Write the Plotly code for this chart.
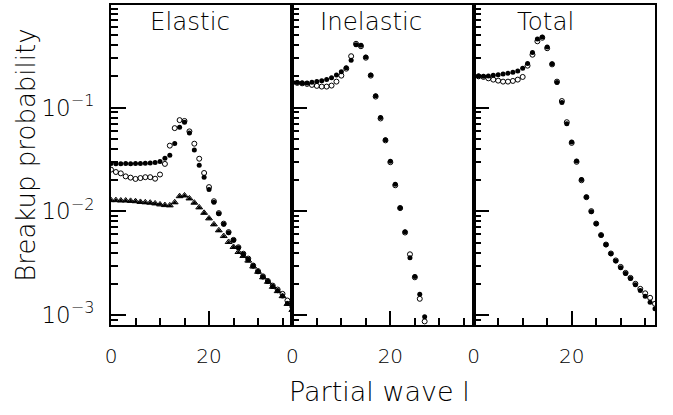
import plotly.graph_objects as go

# ---------------- data ----------------
l_el = list(range(0, 38))
el_filled = [0.0288, 0.0287, 0.0287, 0.0288, 0.0287, 0.0288, 0.0289, 0.0290, 0.0292, 0.0295,
             0.0301, 0.0324, 0.0346, 0.0451, 0.0647, 0.0722, 0.0569, 0.0389, 0.0277, 0.0213,
             0.0162, 0.01225, 0.00946, 0.00748, 0.00621, 0.00525, 0.00446, 0.00385, 0.00345, 0.00297,
             0.00262, 0.00233, 0.00210, 0.00188, 0.00171, 0.00153, 0.00129, 0.00112]
el_open = [0.0252, 0.0239, 0.0232, 0.0217, 0.0211, 0.0205, 0.0209, 0.0213, 0.0213, 0.0206,
           0.0226, 0.0286, 0.0429, 0.0633, 0.0756, 0.0742, 0.0589, 0.0448, 0.0321, 0.0234,
           0.0171, 0.0125, 0.0096, 0.0076, 0.0063, 0.0053, 0.0045, 0.0039, 0.0035, 0.0030,
           0.00265, 0.00236, 0.00213, 0.00192, 0.00176, 0.00160, 0.00138, 0.00120]
el_tri_open = [0.0128, 0.0128, 0.0127, 0.0127, 0.0126, 0.0125, 0.0123, 0.0122, 0.0121, 0.0119,
               0.01164, 0.01147, 0.0114, 0.0122, 0.01397, 0.0142, 0.0133, 0.0121, 0.0109, 0.00966,
               0.00854, 0.00748, 0.00655, 0.00577, 0.00506, 0.00453, 0.00405, 0.00371, 0.00335, 0.00294,
               0.00261, 0.00231, 0.00209, 0.00187, 0.00170, 0.00152, 0.00128, 0.00112]
el_tri_filled = [0.0127, 0.0127, 0.0126, 0.0126, 0.0125, 0.0124, 0.0122, 0.0121, 0.0120, 0.0118,
                 0.0116, 0.0114, 0.0113, 0.0121, 0.0139, 0.0141, 0.0132, 0.0120, 0.0108, 0.0096,
                 0.0085, 0.0074, 0.0065, 0.0057, 0.0050, 0.0045, 0.0040, 0.0037, 0.0033, 0.0029,
                 0.0026, 0.0023, 0.0021, 0.00186, 0.00169, 0.00151, 0.00127, 0.00111]

l_in = list(range(0, 28))
in_filled = [0.1750, 0.1738, 0.1726, 0.1726, 0.1750, 0.1777, 0.1816, 0.1857, 0.1941, 0.2061,
             0.2217, 0.2422, 0.2858, 0.4027, 0.3981, 0.3069, 0.2061, 0.1295, 0.0802, 0.0488,
             0.0303, 0.01824, 0.01079, 0.00635, 0.00357, 0.00235, 0.00159, 0.000964]
in_open = [0.1738, 0.1726, 0.1710, 0.1689, 0.1652, 0.1616, 0.1591, 0.1591, 0.1627, 0.1777,
           0.2029, 0.2368, 0.3122, 0.4115, 0.3895, 0.3020, 0.2029, 0.1275, 0.0784, 0.0482,
           0.0297, 0.0178, 0.01072, 0.00624, 0.00385, 0.00231, 0.001434, 0.000868]

l_tot = list(range(0, 38))
tot_filled = [0.2015, 0.2015, 0.1997, 0.2015, 0.2042, 0.2074, 0.2107, 0.2135, 0.2183, 0.2251,
              0.2384, 0.2662, 0.3396, 0.4566, 0.4772, 0.3826, 0.2645, 0.1738, 0.1117, 0.0698,
              0.0464, 0.0305, 0.02021, 0.01376, 0.00988, 0.00758, 0.00586, 0.00476, 0.00390, 0.00332,
              0.00286, 0.00251, 0.002246, 0.001954, 0.001722, 0.001516, 0.001327, 0.001149]
tot_open = [0.2015, 0.1997, 0.1971, 0.1911, 0.1857, 0.1816, 0.1777, 0.1777, 0.1804, 0.1857,
            0.1971, 0.2531, 0.3228, 0.4349, 0.4699, 0.3726, 0.2604, 0.1777, 0.1155, 0.0722,
            0.0456, 0.02997, 0.01991, 0.01367, 0.01003, 0.00761, 0.0059, 0.00478, 0.00392, 0.00336,
            0.00291, 0.00255, 0.00228, 0.0020, 0.001789, 0.00162, 0.001466, 0.001284]

panel_titles = ["Elastic", "Inelastic", "Total"]
x_ticks = [0, 20]
x_ticktext = ["0", "20"]
y_ticks = [0.001, 0.01, 0.1]
y_ticktext = ["10<sup>\u22123</sup>", "10<sup>\u22122</sup>", "10<sup>\u22121</sup>"]

# ---------------- figure ----------------
FONT = "DejaVu Sans"
W = 200
fig = go.Figure()

def filled(x, y, ax, sym="circle", size=5):
    fig.add_trace(go.Scatter(x=x, y=y, mode="markers", xaxis=ax[0], yaxis=ax[1],
                             marker=dict(symbol=sym, size=size, color="black", line=dict(width=0)),
                             showlegend=False))

def opened(x, y, ax, sym="circle-open", size=5):
    fig.add_trace(go.Scatter(x=x, y=y, mode="markers", xaxis=ax[0], yaxis=ax[1],
                             marker=dict(symbol=sym, size=size, color="black", line=dict(width=1, color="black")),
                             showlegend=False))

opened(l_el, el_tri_open, ("x", "y"), "triangle-up-open", 6)
filled(l_el, el_tri_filled, ("x", "y"), "triangle-up", 5)
opened(l_el, el_open, ("x", "y"))
filled(l_el, el_filled, ("x", "y"))
opened(l_in, in_open, ("x2", "y2"))
filled(l_in, in_filled, ("x2", "y2"))
opened(l_tot, tot_open, ("x3", "y3"))
filled(l_tot, tot_filled, ("x3", "y3"))

minor_y = [m * 10.0 ** e for e in (-4, -3, -2, -1) for m in range(2, 10)]
domains = [[0, 1 / 3], [1 / 3, 2 / 3], [2 / 3, 1]]
layout = dict(width=673, height=415, margin=dict(l=111, r=18, t=3, b=90),
              paper_bgcolor="white", plot_bgcolor="white",
              font=dict(family=FONT, color="black", weight=W))
for i in range(3):
    sx = "" if i == 0 else str(i + 1)
    layout["xaxis" + sx] = dict(
        domain=domains[i], range=[0, 37], anchor="y" + sx,
        showline=True, linewidth=2, linecolor="black", mirror=True,
        showgrid=False, zeroline=False,
        ticks="inside", tickvals=x_ticks, ticktext=x_ticktext, ticklen=14, tickwidth=1.5, tickcolor="black",
        minor=dict(ticks="inside", dtick=5, tick0=0, ticklen=7, tickwidth=1.5, tickcolor="black", showgrid=False),
        tickfont=dict(size=20, family=FONT, weight=W), ticklabelstandoff=12)
    layout["yaxis" + sx] = dict(
        type="log", range=[-3.096, -0.012], domain=[0, 1], anchor="x" + sx,
        showline=True, linewidth=2, linecolor="black", mirror=True,
        showgrid=False, zeroline=False,
        ticks="inside", tickvals=y_ticks, ticktext=y_ticktext, ticklen=15, tickwidth=1.5, tickcolor="black",
        minor=dict(ticks="inside", tickmode="array", tickvals=minor_y, ticklen=7, tickwidth=1.5,
                   tickcolor="black", showgrid=False),
        showticklabels=(i == 0), tickfont=dict(size=23, family=FONT, weight=W), ticklabelstandoff=10)
fig.update_layout(**layout)

title_x = [7.6, 5.2, 8.4]
for i, t in enumerate(panel_titles):
    sx = "" if i == 0 else str(i + 1)
    fig.add_annotation(text=t, xref="x" + sx, yref="paper", x=title_x[i], y=0.950,
                       xanchor="left", yanchor="middle", showarrow=False,
                       font=dict(size=24.5, family=FONT, weight=W))

fig.add_annotation(text="Breakup probability", xref="paper", yref="paper",
                   x=(26 - 111) / 544, y=0.529, textangle=-90, xanchor="center", yanchor="middle",
                   showarrow=False, font=dict(size=26, family=FONT, weight=W))
fig.add_annotation(text="Partial wave l", xref="paper", yref="paper",
                   x=(379 - 111) / 544, y=(324.5 - 391) / 322, xanchor="center", yanchor="middle",
                   showarrow=False, font=dict(size=27, family=FONT, weight=W))

fig.write_html("out.html")
